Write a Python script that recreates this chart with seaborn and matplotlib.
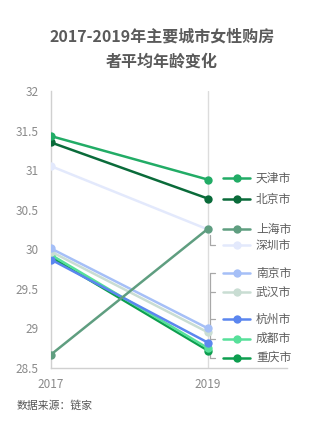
import matplotlib
matplotlib.use("Agg")
import matplotlib.pyplot as plt
import seaborn as sns
import pandas as pd

sns.set_theme(style="white")
plt.rcParams['font.family'] = ['Noto Sans CJK SC', 'DejaVu Sans']

years = [2017, 2019]
cities = ["天津市", "北京市", "上海市", "深圳市", "南京市", "武汉市", "杭州市", "成都市", "重庆市"]
age_2017 = [31.43, 31.35, 28.67, 31.05, 30.01, 29.97, 29.87, 29.93, 29.90]
age_2019 = [30.88, 30.64, 30.26, 30.25, 29.00, 28.95, 28.82, 28.75, 28.72]
colors = ["#22ac66", "#0a6b3a", "#5f9e80", "#e3e9fc", "#a5bff7",
          "#c9ddd3", "#5b86ef", "#57e09a", "#0d9e4f"]
yticks = [28.5, 29, 29.5, 30, 30.5, 31, 31.5, 32]
ytick_labels = ["28.5", "29", "29.5", "30", "30.5", "31", "31.5", "32"]

# label layout (y positions of the end labels)
label_y = [30.90, 30.635, 30.256, 30.054, 29.70, 29.46, 29.12, 28.87, 28.63]

rows = []
for c, a, b in zip(cities, age_2017, age_2019):
    rows.append({"year": years[0], "city": c, "age": a})
    rows.append({"year": years[1], "city": c, "age": b})
df = pd.DataFrame(rows)

fig = plt.figure(figsize=(3.24, 4.46), dpi=100)
ax = fig.add_axes([0.1574, 0.1749, 0.7284, 0.6211])

pal = dict(zip(cities, colors))
sns.lineplot(data=df, x="year", y="age", hue="city", hue_order=cities[::-1], palette=pal,
             marker="o", markersize=6, markeredgewidth=0, linewidth=1.8,
             legend=False, ax=ax, zorder=3)

ax.set_xlim(2017, 2020.006)
ax.set_ylim(28.5, 32)
ax.set_xticks(years)
ax.set_xticklabels([str(y) for y in years])
ax.set_yticks(yticks)
ax.set_yticklabels(ytick_labels)
ax.set_xlabel("")
ax.set_ylabel("")
ax.tick_params(axis="both", length=0, colors="#8a8a8a", labelsize=8.5)
ax.tick_params(axis="y", pad=9)
ax.tick_params(axis="x", pad=7)
for lbl in ax.get_xticklabels() + ax.get_yticklabels():
    lbl.set_fontweight("light")
for s in ["top", "right"]:
    ax.spines[s].set_visible(False)
for s in ["left", "bottom"]:
    ax.spines[s].set_color("#d0d0d0")
    ax.spines[s].set_linewidth(1)
ax.axvline(2019, color="#dcdcdc", linewidth=1, zorder=1)

# end labels with leader lines
xb = 2019.025
xt = 2019.09
ax.plot([xb, xb], [label_y[4], label_y[8]], color="#a8a8a8", lw=0.9, clip_on=False, zorder=2)
for i in range(4, 9):
    ax.plot([xb, xt], [label_y[i], label_y[i]], color="#a8a8a8", lw=0.9, clip_on=False, zorder=2)
ax.plot([xb, xb, xt], [30.18, label_y[3], label_y[3]], color="#a8a8a8", lw=0.9, clip_on=False, zorder=2)

for c, col, ly in zip(cities, colors, label_y):
    ax.plot([2019.19, 2019.535], [ly, ly], color=col, lw=1.8, clip_on=False, zorder=3)
    ax.plot([2019.37], [ly], marker="o", markersize=6, markeredgewidth=0, color=col,
            clip_on=False, zorder=4)
    ax.text(2019.61, ly, c, color="#5e5e5e", fontsize=8.5, va="center", ha="left",
            clip_on=False)

fig.text(0.5, 1 - 37 / 446, "2017-2019年主要城市女性购房", ha="center", va="center",
         fontsize=11.5, fontweight="bold", color="#5a5a5a")
fig.text(0.5, 1 - 62 / 446, "者平均年龄变化", ha="center", va="center",
         fontsize=11.5, fontweight="bold", color="#5a5a5a")
fig.text(17 / 324, 1 - 405 / 446, "数据来源：链家", ha="left", va="center",
         fontsize=7.8, color="#555555")

fig.savefig("out.png", dpi=100)
